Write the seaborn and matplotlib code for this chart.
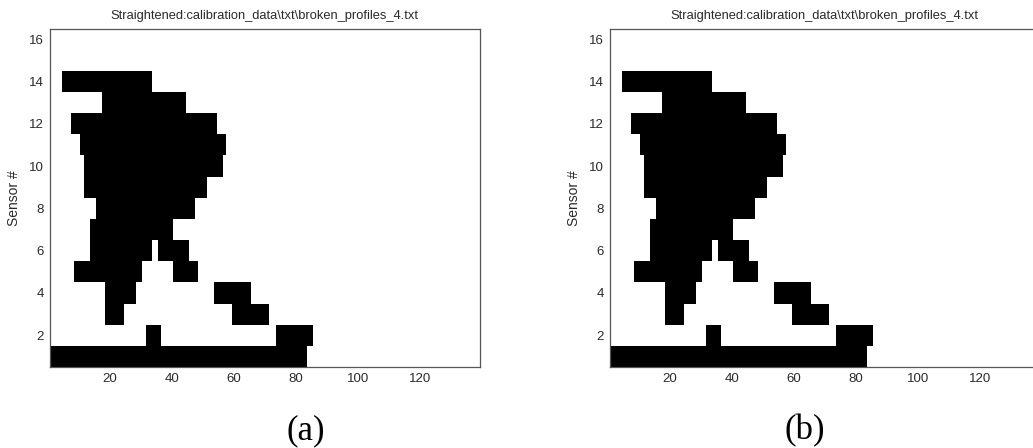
import numpy as np
import pandas as pd
import seaborn as sns
import matplotlib.pyplot as plt
from matplotlib.colors import ListedColormap

# Sensor grid: 16 sensors x 139 samples along the straightened profile
n_sensors = 16
n_samples = 139

# Black (broken) runs: sensor number, first sample, last sample (inclusive)
run_sensor = [14, 13, 12, 11, 10, 9, 8, 7, 6, 6, 5, 5, 4, 4, 3, 3, 2, 2, 1]
run_first = [5, 18, 8, 11, 12, 12, 16, 14, 14, 36, 9, 41, 19, 54, 19, 60, 32, 74, 1]
run_last = [33, 44, 54, 57, 56, 51, 47, 40, 33, 45, 30, 48, 28, 65, 24, 71, 36, 85, 83]

x_ticks = [20, 40, 60, 80, 100, 120]
y_ticks = [2, 4, 6, 8, 10, 12, 14, 16]

title_text = "Straightened:calibration_data\\txt\\broken_profiles_4.txt"
y_label = "Sensor #"
captions = ["(a)", "(b)"]

# Build the binary profile matrix
grid = np.zeros((n_sensors, n_samples))
for s, a, b in zip(run_sensor, run_first, run_last):
    grid[s - 1, a - 1:b] = 1

sensors = np.arange(1, n_sensors + 1)
samples = np.arange(1, n_samples + 1)
# top row of the heatmap is the highest sensor number
frame = pd.DataFrame(grid[::-1], index=sensors[::-1], columns=samples)

sns.set_style("white")
plt.rcParams["font.family"] = ["Liberation Sans", "DejaVu Sans"]

W, H = 1033, 448
fig = plt.figure(figsize=(W / 100, H / 100), dpi=100)
fig.patch.set_facecolor("white")

ax_w, ax_top, ax_bot = 430.5, 28.5, 367.0
lefts = [49.5, 609.5]
caption_x = [306, 805]

cmap = ListedColormap(["white", "black"])
edge = "#555555"
text_c = "#2a2a2a"

for left, cap, cx in zip(lefts, captions, caption_x):
    ax = fig.add_axes([left / W, (H - ax_bot) / H, ax_w / W, (ax_bot - ax_top) / H])
    sns.heatmap(frame, ax=ax, cmap=cmap, vmin=0, vmax=1, cbar=False,
                xticklabels=False, yticklabels=False)
    ax.set_xticks([c - 0.5 for c in x_ticks])
    ax.set_xticklabels([str(c) for c in x_ticks])
    ax.set_yticks([n_sensors - s + 0.5 for s in y_ticks])
    ax.set_yticklabels([str(s) for s in y_ticks], rotation=0)
    ax.set_xlabel("")
    ax.set_ylabel(y_label, fontsize=10, color=text_c, labelpad=6)
    for sp in ax.spines.values():
        sp.set_visible(True)
        sp.set_color(edge)
        sp.set_linewidth(0.9)
    ax.tick_params(direction="in", length=4, width=0.8, color=edge,
                   top=True, right=True, bottom=True, left=True,
                   labelsize=9.5, labelcolor=text_c, pad=4)
    ax.set_title(title_text, fontsize=9.3, color=text_c, pad=7)
    fig.text(cx / W, 1 - 431 / H, cap, ha="center", va="center",
             fontsize=25, family=["Liberation Serif", "DejaVu Serif"], color="black")

fig.savefig("out.png", dpi=100, facecolor="white")
